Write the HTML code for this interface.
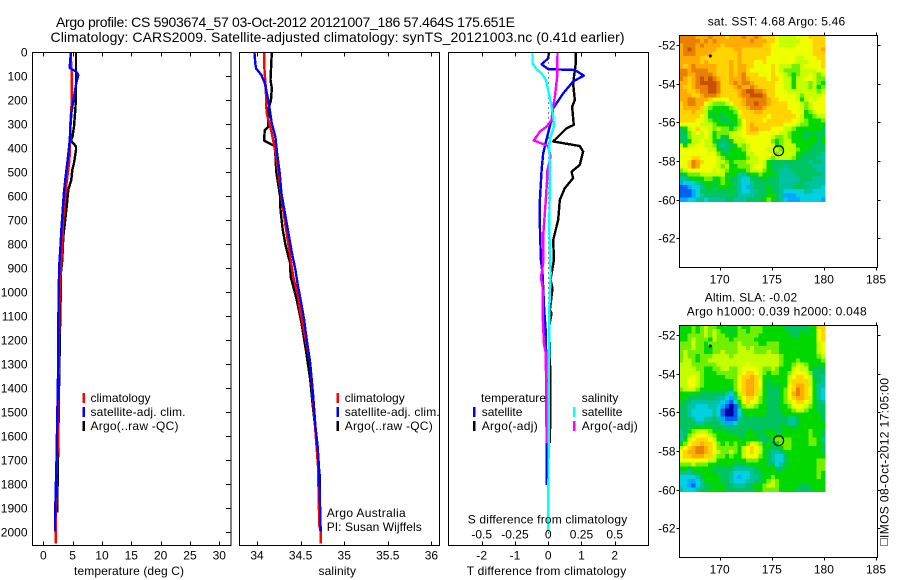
<!DOCTYPE html>
<html>
<head>
<meta charset="utf-8">
<title>Argo profile</title>
<style>
html,body{margin:0;padding:0;background:#fff;width:900px;height:580px;overflow:hidden}
svg{display:block}
text{font-family:"Liberation Sans",sans-serif;font-size:12px;fill:#000}
.t14{font-size:14px}
</style>
</head>
<body>
<svg id="fig" xmlns="http://www.w3.org/2000/svg" width="900" height="580" viewBox="0 0 900 580">
<rect x="0" y="0" width="900" height="580" fill="#fff"/>
<g id="panels"></g>
<g id="labels">
<text class="t14" x="56" y="27" textLength="459" lengthAdjust="spacing">Argo profile: CS 5903674_57 03-Oct-2012 20121007_186 57.464S 175.651E</text>
<text class="t14" x="50.5" y="42" textLength="574" lengthAdjust="spacing">Climatology: CARS2009. Satellite-adjusted climatology: synTS_20121003.nc (0.41d earlier)</text>

<text x="74" y="575" textLength="110" lengthAdjust="spacing">temperature (deg C)</text>
<text x="318.5" y="575" textLength="37.5" lengthAdjust="spacing">salinity</text>
<text x="466.7" y="575" textLength="159.5" lengthAdjust="spacing">T difference from climatology</text>
<text x="467.7" y="523.5" textLength="159.5" lengthAdjust="spacing">S difference from climatology</text>

<text x="90.5" y="402">climatology</text>
<text x="90.5" y="416" textLength="95" lengthAdjust="spacing">satellite-adj. clim.</text>
<text x="90.5" y="430" textLength="88" lengthAdjust="spacing">Argo(..raw -QC)</text>
<text x="344.7" y="402">climatology</text>
<text x="344.7" y="416" textLength="95" lengthAdjust="spacing">satellite-adj. clim.</text>
<text x="344.7" y="430" textLength="88" lengthAdjust="spacing">Argo(..raw -QC)</text>
<text x="326.7" y="517" textLength="79" lengthAdjust="spacing">Argo Australia</text>
<text x="326.7" y="531" textLength="95" lengthAdjust="spacing">PI: Susan Wijffels</text>

<text x="481" y="402" textLength="65" lengthAdjust="spacing">temperature</text>
<text x="481.7" y="416">satellite</text>
<text x="481.7" y="430" textLength="56" lengthAdjust="spacing">Argo(-adj)</text>
<text x="581.7" y="402">salinity</text>
<text x="581.7" y="416">satellite</text>
<text x="581.7" y="430" textLength="56" lengthAdjust="spacing">Argo(-adj)</text>

<text x="707.7" y="25.5" textLength="137.5" lengthAdjust="spacing">sat. SST: 4.68 Argo: 5.46</text>
<text x="704.7" y="301.7" textLength="92.5" lengthAdjust="spacing">Altim. SLA: -0.02</text>
<text x="686.7" y="315.5" textLength="180" lengthAdjust="spacing">Argo h1000: 0.039 h2000: 0.048</text>
<text transform="translate(888.7,538) rotate(-90)" x="0" y="0" textLength="160" lengthAdjust="spacing">IMOS 08-Oct-2012 17:05:00</text>
<rect x="880.5" y="538.5" width="7" height="7" fill="none" stroke="#000" stroke-width="1" stroke-dasharray="1 1" shape-rendering="crispEdges"/>
</g>
</svg>
<script>
// Axis tick values
const depthTicks = [0,100,200,300,400,500,600,700,800,900,1000,1100,1200,1300,1400,1500,1600,1700,1800,1900,2000];
const tempTicks = [0,5,10,15,20,25,30];
const salTicks = [34,34.5,35,35.5,36];
const salTickLabels = ["34","34.5","35","35.5","36"];
const tDiffTicks = [-2,-1,0,1,2];
const sDiffTicks = [-0.5,-0.25,0,0.25,0.5];
const sDiffTickLabels = ["-0.5","-0.25","0","0.25","0.5"];
const lonTicks = [170,175,180,185];
const latTicks = [-52,-54,-56,-58,-60,-62];

// Temperature profiles
const tempClimDepth = [0,100,200,300,400,450,500,550,600,700,800,900,1000,1300,1640,1700,2000,2050];
const tempClimValue = [4.65,4.85,4.85,4.6,4.55,4.45,4.2,3.95,3.75,3.4,3.25,3.0,2.8,2.6,2.55,2.3,2.1,2.1];
const tempSatDepth = [0,45,65,72,80,95,130,190,250,300,370,440,520,590,660,730,800,880,1000,1350,1700,1950,2000];
const tempSatValue = [4.7,4.55,4.5,5.0,5.6,5.95,5.6,5.2,4.8,4.65,4.5,4.2,3.8,3.5,3.3,3.1,2.95,2.75,2.6,2.5,2.25,2.0,2.0];
const tempArgoDepth = [0,115,185,240,310,350,368,393,407,462,490,532,574,643,712,768,865,920,1032,1157,1407,1630,1920];
const tempArgoValue = [5.57,5.57,5.57,5.45,5.23,5.0,4.72,5.57,5.57,5.23,4.94,4.77,4.26,3.98,3.69,3.41,3.24,3.0,2.95,2.84,2.67,2.55,2.35];

// Salinity profiles
const salClimDepth = [0,60,143,254,338,435,546,657,754,851,935,1018,1070,1296,1559,1726,1976,2000,2050];
const salClimValue = [34.084,34.084,34.10,34.11,34.17,34.22,34.26,34.30,34.34,34.38,34.415,34.47,34.49,34.61,34.665,34.70,34.715,34.73,34.73];
const salSatDepth = [0,46,67,95,129,199,297,351,421,504,588,671,754,837,907,976,1032,1115,1199,1296,1435,1559,1643,1726,1851,2000];
const salSatValue = [33.97,33.98,33.99,34.05,34.09,34.13,34.17,34.21,34.23,34.26,34.28,34.32,34.36,34.40,34.44,34.47,34.50,34.54,34.57,34.61,34.645,34.67,34.695,34.71,34.72,34.73];
const salArgoDepth = [0,115,150,199,240,310,324,368,392,450,497,601,657,740,810,879,935,976,1018,1032,1129,1240,1365,1476,1559,1698,1768,1851];
const salArgoValue = [34.17,34.155,34.17,34.16,34.13,34.13,34.09,34.08,34.205,34.215,34.22,34.265,34.27,34.295,34.33,34.38,34.385,34.415,34.445,34.455,34.51,34.56,34.61,34.64,34.665,34.70,34.72,34.72];

// Difference profiles
const diffTSatDepth = [0,25,50,70,74,97,122,171,233,282,352,421,491,616,727,866,922,1075,1172,1422,1805];
const diffTSatValue = [0.02,0,-0.20,0,0.80,1.07,0.75,0.45,0.15,0.10,-0.03,-0.15,-0.20,-0.25,-0.25,-0.22,-0.17,-0.12,-0.07,-0.05,-0.05];
const diffTArgoDepth = [0,46,129,199,227,303,317,372,391,414,470,498,525,567,616,699,783,866,949,984,1075,1089,1144,1269,1408,1630];
const diffTArgoValue = [0.83,0.83,0.75,0.80,0.72,0.77,0.55,0.15,0.95,1.05,0.95,0.70,0.75,0.50,0.35,0.30,0.15,0.17,0.07,0.13,0.05,0.10,0.03,0.05,0.07,0.05];
const diffSSatDepth = [0,46,71,88,115,157,213,268,310,352,386,505,741,922,1075,2000];
const diffSSatValue = [-0.118,-0.118,-0.088,-0.05,-0.018,0,0.02,0.038,0.043,0.018,0.008,0.012,0.008,0.018,0.008,0];
const diffSArgoDepth = [0,100,185,241,282,310,330,368,391,435,498,532,616,769,880,942,977,1075,1089,1214,1255,1630];
const diffSArgoValue = [0.07,0.068,0.05,0.033,0.025,-0.012,-0.062,-0.108,0,0.018,-0.008,-0.008,-0.018,-0.038,-0.038,-0.055,-0.043,-0.04,-0.042,-0.032,-0.018,-0.012];

// Argo float positions
const floatLon = [175.651];
const floatLat = [-57.464];
const nearbyLon = [169.1];
const nearbyLat = [-52.57];

// Colour-level grids (level index into the map palette)
const sstGrid = [
[12,12,12,12,11,11,11,12,11,11,11,10,11,11,11,12,11,11,12,11,10,10,10,9,8,8,8,8,9,9,9,10,10,10,10],
[12,12,12,12,12,11,12,11,12,11,11,11,11,11,11,11,11,12,11,11,11,10,10,9,8,8,8,8,8,9,9,9,10,10,10],
[11,12,12,12,11,12,11,11,11,11,10,11,11,11,11,11,11,11,11,11,10,10,9,9,8,8,8,8,9,9,9,9,10,10,10],
[11,12,13,12,11,11,11,11,11,10,10,10,10,11,11,10,10,10,10,10,10,10,9,9,9,9,9,9,9,9,9,9,10,10,11],
[11,12,12,12,11,11,11,11,10,10,10,10,10,10,11,10,10,10,10,10,10,10,9,9,9,9,9,9,9,9,9,9,10,10,10],
[11,11,11,11,11,10,10,10,10,10,10,10,10,10,11,10,10,10,10,10,10,9,9,9,9,9,9,9,8,8,9,9,9,10,10],
[11,11,11,11,11,10,11,10,10,10,10,10,11,10,11,10,10,10,9,9,10,9,9,9,9,9,9,9,8,8,8,9,9,9,10],
[11,10,11,12,11,11,11,11,11,10,10,10,11,10,11,11,10,10,9,9,9,9,10,9,8,8,8,7,7,8,9,9,9,9,10],
[12,12,11,12,12,12,12,11,11,10,10,10,11,10,11,11,10,9,9,9,9,9,10,9,8,7,7,7,7,8,8,8,8,9,9],
[12,12,11,11,12,12,12,12,11,10,10,10,11,10,11,12,10,10,10,9,9,9,10,9,9,8,7,6,7,8,8,9,8,7,8],
[12,11,10,11,12,13,12,13,12,11,10,10,11,11,11,12,11,10,10,10,10,9,10,10,9,8,8,6,8,8,9,9,8,7,7],
[11,11,10,11,12,13,13,13,13,12,10,10,11,12,11,12,12,11,10,10,10,10,10,9,9,8,8,6,8,8,8,7,8,7,6],
[11,10,10,11,12,12,12,13,13,12,10,10,10,11,12,11,11,12,11,10,10,10,10,9,9,8,8,6,8,8,8,7,8,6,7],
[11,11,10,10,11,12,12,13,13,12,10,10,10,10,11,12,13,13,12,12,11,10,10,9,9,9,8,8,8,8,8,8,8,7,8],
[11,11,11,10,10,11,12,12,12,11,10,10,10,10,11,12,12,13,13,13,12,10,10,9,9,9,9,9,8,7,8,8,8,8,9],
[11,11,12,12,11,11,11,10,9,9,9,9,10,10,10,11,12,12,12,12,12,11,10,10,9,9,9,9,8,6,8,9,8,9,9],
[10,11,12,12,11,11,9,8,7,7,7,8,9,10,10,11,12,12,13,12,12,11,10,10,10,10,9,9,9,8,7,8,9,9,9],
[10,11,11,11,11,10,8,7,6,6,6,6,7,8,10,10,11,12,12,12,11,10,10,10,10,10,9,9,9,8,7,8,9,9,9],
[10,10,10,11,10,10,8,6,6,6,6,6,6,7,9,10,10,10,11,11,10,10,10,10,10,10,10,9,9,9,6,7,8,9,9],
[10,10,10,10,10,9,8,6,5,6,5,6,6,6,8,10,10,10,10,10,10,9,10,10,10,10,10,10,9,8,6,6,7,8,8],
[10,10,10,10,9,9,8,7,6,6,5,5,6,6,7,9,10,10,10,10,9,10,10,10,10,10,10,9,9,8,7,6,6,6,7],
[9,9,9,9,9,8,8,8,7,6,6,6,5,6,7,9,10,11,10,10,10,10,10,10,10,9,9,9,8,7,7,6,6,6,6],
[5,6,8,9,10,9,9,8,7,8,7,7,6,7,8,9,10,11,11,10,10,10,9,9,9,8,8,7,6,6,6,6,6,6,5],
[5,5,7,8,9,8,9,8,6,7,7,7,8,8,9,9,10,10,10,9,9,9,9,9,8,8,7,6,6,6,5,5,6,5,5],
[5,5,7,8,8,8,9,8,6,7,5,6,8,8,8,9,9,9,9,9,9,9,8,7,7,8,7,6,6,6,5,6,6,5,6],
[5,5,6,8,8,9,8,8,6,5,5,5,6,8,8,8,9,9,9,9,9,9,7,6,7,8,8,6,6,6,6,6,6,5,6],
[8,6,8,8,9,9,8,8,7,5,4,5,5,6,8,7,8,9,9,9,9,9,8,6,7,8,8,8,6,6,6,6,5,5,5],
[9,9,9,9,9,9,9,8,8,6,5,5,6,6,6,7,8,9,9,9,9,8,8,8,7,8,8,8,7,6,6,5,5,5,5],
[9,9,9,9,9,9,9,9,9,7,6,5,6,6,6,6,8,8,9,9,9,9,8,7,8,8,8,8,6,6,5,5,5,5,4],
[9,9,9,10,10,9,9,9,9,8,7,6,6,6,6,6,7,8,8,9,9,8,7,8,8,8,8,7,6,5,5,5,5,4,4],
[9,9,10,12,11,10,9,9,9,8,8,7,6,7,7,7,8,8,8,9,8,6,5,5,5,5,5,5,5,5,5,4,5,5,4],
[9,9,10,12,11,9,9,9,9,8,7,8,6,6,7,7,7,8,9,9,8,6,5,5,5,4,5,5,5,5,5,5,4,4,4],
[7,8,9,9,9,9,9,9,8,9,8,7,6,6,6,6,7,8,8,9,7,6,5,5,4,4,4,5,5,5,5,5,5,4,4],
[5,6,7,7,7,8,8,8,8,8,8,6,6,6,4,4,5,6,6,7,6,6,6,5,4,4,4,4,5,5,5,5,5,5,4],
[4,4,5,6,6,6,7,7,6,6,7,6,5,5,4,3,3,5,5,5,6,5,5,5,4,4,4,4,4,5,5,5,4,4,4],
[2,3,3,3,4,5,6,6,5,6,7,6,6,5,4,3,3,4,5,5,5,5,5,5,4,4,4,4,5,5,4,4,4,4,4],
[1,1,2,3,3,4,5,6,5,6,6,6,5,5,4,3,2,4,5,5,5,6,5,5,4,4,4,5,5,5,5,4,4,4,3],
[1,1,1,2,3,5,5,5,5,5,5,5,6,5,4,3,3,4,4,5,5,6,5,5,4,3,3,3,3,3,4,4,3,3,3],
[1,1,1,2,3,4,5,5,5,5,5,5,5,5,4,4,4,4,5,5,5,6,6,5,4,2,2,2,3,3,3,3,3,3,3],
[2,2,3,3,4,4,3,4,4,4,4,5,5,4,4,4,5,5,5,5,6,7,6,5,4,3,2,2,2,3,3,3,3,3,2]
];
const slaGrid = [
[6,6,6,7,6,7,8,7,7,6,6,6,6,6,7,6,6,7,7,7,6,6,6,6,6,5,5,5,5,5,5,6,6,10,10],
[6,6,6,7,6,7,8,7,8,7,6,6,5,6,7,7,6,7,7,7,6,6,6,6,6,6,5,5,5,6,5,6,6,9,10],
[6,6,7,7,7,7,8,7,8,7,7,6,6,6,7,7,7,7,7,6,6,6,6,6,6,6,6,5,5,6,6,6,6,9,10],
[6,6,7,8,7,7,7,6,8,7,7,7,6,7,7,7,7,7,6,6,6,6,6,6,6,6,6,6,6,6,6,6,6,9,10],
[7,7,7,8,7,7,6,7,7,7,7,7,7,7,8,7,7,7,7,6,6,7,7,7,6,6,6,6,6,6,6,6,6,8,9],
[7,7,7,8,7,7,6,6,7,7,7,7,7,7,8,8,7,8,7,7,7,7,7,7,6,6,6,6,6,6,6,6,6,8,9],
[7,8,7,7,7,7,6,6,7,7,8,7,7,7,8,8,8,8,7,7,7,8,7,7,6,6,6,6,6,6,6,6,6,8,9],
[7,8,7,7,6,7,7,7,8,8,8,8,7,8,8,8,8,8,8,8,8,8,8,8,7,6,6,6,6,6,6,6,6,7,8],
[7,8,8,7,6,7,7,8,8,8,8,8,8,8,8,8,8,8,8,8,8,8,8,8,7,6,6,6,7,6,6,6,6,6,7],
[8,8,8,7,7,7,7,7,7,8,8,8,8,8,8,8,9,8,8,8,8,8,8,8,7,6,6,7,8,8,7,6,6,6,6],
[8,8,8,8,7,7,6,6,7,7,8,8,7,7,8,9,9,9,9,8,7,7,8,7,6,6,6,8,9,8,8,6,5,5,5],
[8,8,8,8,8,7,6,6,6,7,7,7,7,7,8,9,10,10,9,8,7,6,7,7,6,6,7,9,9,9,9,7,5,5,5],
[8,8,9,9,8,7,6,6,6,6,6,7,7,7,9,10,10,11,10,8,6,6,6,6,6,6,8,9,10,10,9,8,5,5,4],
[8,8,9,9,8,7,6,6,6,6,6,6,6,7,9,10,11,11,10,9,6,5,6,6,6,6,8,10,10,10,10,8,6,5,4],
[8,8,9,9,8,7,6,6,6,6,6,6,6,7,9,10,11,11,10,9,6,5,6,5,6,6,9,10,11,11,10,8,6,4,4],
[7,8,8,8,7,6,6,6,6,6,6,6,5,7,9,10,11,11,10,8,6,5,5,5,6,7,9,10,12,11,10,9,6,4,3],
[6,6,6,6,6,5,5,5,5,5,5,4,3,6,8,10,11,11,10,8,6,5,5,5,6,7,9,11,12,11,10,9,6,4,3],
[6,6,5,5,5,5,5,5,5,4,4,3,2,4,7,9,10,10,9,7,6,5,5,5,6,7,9,10,11,11,10,8,6,4,3],
[6,5,5,4,4,4,4,4,4,4,3,2,1,3,6,9,10,9,9,7,6,5,5,5,6,7,8,9,10,10,9,8,6,5,4],
[5,5,4,4,3,3,3,4,4,3,2,1,0,1,5,7,8,8,7,6,6,5,5,5,6,6,7,9,9,9,8,7,6,5,5],
[5,5,4,3,3,3,3,3,4,3,1,0,0,1,3,6,6,6,6,6,6,5,5,5,6,6,6,7,8,8,7,6,6,5,5],
[5,5,4,3,3,3,3,3,4,3,1,0,0,1,3,5,6,6,6,6,6,5,5,5,5,6,6,6,6,6,6,6,6,6,5],
[5,5,5,4,3,3,4,4,5,4,2,1,1,1,4,5,5,5,5,5,5,5,5,5,5,5,4,4,5,6,6,6,6,6,5],
[5,5,5,5,4,4,5,5,5,5,4,2,2,3,5,5,5,5,5,5,5,5,5,5,5,5,4,4,5,6,6,6,6,6,6],
[5,5,5,6,6,6,6,6,5,5,5,5,5,5,5,5,5,5,5,5,5,5,5,5,6,6,6,5,6,6,6,6,6,6,6],
[4,5,6,7,8,8,8,7,6,6,6,5,5,5,5,5,6,6,5,5,6,6,6,5,5,6,6,6,6,6,6,7,6,6,5],
[4,5,7,8,9,9,9,8,7,6,6,6,6,6,5,5,6,6,6,5,5,6,6,6,6,6,6,6,6,6,6,7,6,6,5],
[4,6,8,9,10,10,10,9,8,6,6,6,6,6,6,6,6,6,6,5,5,5,6,7,7,7,7,6,6,6,6,7,7,6,4],
[6,7,9,10,10,11,10,10,9,7,6,7,6,7,6,6,7,9,8,7,5,6,5,6,7,7,7,6,6,6,6,7,7,6,5],
[8,9,10,11,12,12,11,10,9,7,7,7,7,7,6,8,9,10,9,8,6,6,5,5,6,7,7,6,6,6,6,6,6,6,5],
[9,10,11,11,12,12,11,10,9,8,7,7,8,7,6,8,9,10,9,8,6,5,4,4,5,6,6,6,6,6,6,6,6,6,5],
[9,10,10,11,11,11,10,10,8,7,7,6,7,6,6,8,9,9,9,7,6,5,4,3,3,5,6,6,6,6,6,6,6,6,6],
[9,9,9,9,9,9,9,8,8,6,6,6,6,6,6,6,7,7,7,6,6,5,4,3,3,5,6,6,6,6,6,6,6,7,7],
[7,7,7,8,7,7,7,6,6,6,6,6,6,5,5,5,6,6,6,6,6,5,5,3,4,5,6,6,6,6,6,6,6,7,7],
[6,6,5,6,6,6,6,6,5,5,5,5,5,4,4,4,4,4,5,6,6,6,6,5,5,6,6,6,6,6,6,6,6,7,7],
[4,4,4,5,5,6,6,6,6,5,5,5,4,3,3,3,3,4,5,5,6,6,6,6,6,6,6,6,6,6,6,6,6,7,6],
[3,3,3,3,4,5,6,6,6,6,5,5,4,3,2,3,3,4,4,5,6,6,7,6,6,6,6,6,6,6,6,6,6,7,6],
[3,3,2,2,3,4,6,6,6,6,5,5,4,3,3,3,4,4,5,5,6,7,8,7,6,6,6,6,6,6,6,6,6,6,6],
[3,3,2,1,3,4,5,5,6,6,6,5,5,4,4,4,5,5,6,6,7,8,8,7,6,6,6,6,6,5,5,6,6,6,6],
[4,3,3,3,4,5,5,6,6,6,6,5,5,5,5,5,5,5,6,6,7,7,7,7,6,6,6,6,5,5,5,5,6,6,6]
];

const mapPalette = ["#0000a0","#0060f0","#00a8ff","#00d0e0","#00c4a0","#00c460","#00d800","#70f000","#c4ff00","#f0ff00","#ffd400","#ffac00","#e88000","#c85000"];

const NS = "http://www.w3.org/2000/svg";
const panels = document.getElementById("panels");

function make(tag, attrs, parent){
  const el = document.createElementNS(NS, tag);
  for(const k in attrs){ el.setAttribute(k, attrs[k]); }
  (parent || panels).appendChild(el);
  return el;
}

// Axis functions
const yDepth = d => 52.3 + d * 0.2397;
const xTemp = t => 43.3 + t * 5.867;
const xSal = s => 257 + (s - 34) * 87.2;
const xTDiff = t => 548.2 + t * 33.25;
const xSDiff = s => 548.2 + s * 133;
const xLon = lon => 719.7 + (lon - 170) * 10.42;
const yLat = (lat, top) => top + 10 + (-52 - lat) * 19.33;

const GRID_LON0 = 166.1;
const GRID_LAT0 = -51.48;
const GRID_DLON = 0.4;
const GRID_DLAT = 0.2156;

function drawLine(x1, y1, x2, y2, name, parent){
  const el = make("line", {x1:x1, y1:y1, x2:x2, y2:y2, stroke:"#000", "stroke-width":1, "shape-rendering":"crispEdges"}, parent);
  
  
  return el;
}

function drawText(str, x, y, anchor, name, parent){
  const el = make("text", {x:x, y:y, "text-anchor":anchor}, parent);
  el.textContent = str;
  
  
  return el;
}

function drawSeries(depths, values, xFn, color, width, name){
  const pts = depths.map((d, i) => xFn(values[i]).toFixed(1) + "," + yDepth(d).toFixed(1)).join(" ");
  const el = make("polyline", {points:pts, fill:"none", stroke:color, "stroke-width":width, "stroke-linejoin":"round", "shape-rendering":"crispEdges"});
  
  
  return el;
}

function drawFrame(x, y, w, h, name){
  const el = make("rect", {x:x, y:y, width:w, height:h, fill:"none", stroke:"#000", "stroke-width":1, "shape-rendering":"crispEdges"});
  
  
  return el;
}

function legendBar(x, y, color, name){
  const el = make("rect", {x:x, y:y, width:2.5, height:10, fill:color, "shape-rendering":"crispEdges"});
  
  
  return el;
}

// Profile panel geometry
const TOP = 52.5, BOT = 545.5, TICK = 4;

function xTicksBoth(ticks, fn, name){
  ticks.forEach(v => {
    const x = Math.round(fn(v)) + 0.5;
    drawLine(x, TOP, x, TOP + TICK, name + "-top-tick");
    drawLine(x, BOT, x, BOT - TICK, name + "-bottom-tick");
  });
}

// Temperature panel
drawSeries(tempArgoDepth, tempArgoValue, xTemp, "#000", 2.4, "temperature-argo-line");
drawSeries(tempClimDepth, tempClimValue, xTemp, "#f00", 2.4, "temperature-climatology-line");
drawSeries(tempSatDepth, tempSatValue, xTemp, "#00f", 2.4, "temperature-satellite-line");
drawFrame(32.5, TOP, 198.5, BOT - TOP, "temperature-panel-frame");
xTicksBoth(tempTicks, xTemp, "temperature");
tempTicks.forEach(v => drawText(String(v), xTemp(v), 559.5, "middle", "temperature-tick-label"));
depthTicks.forEach(d => {
  const y = Math.round(yDepth(d)) + 0.5;
  if(d > 0){
    drawLine(231, y, 226, y, "depth-right-tick");
  }
  drawText(String(d), 27.5, y + 4, "end", "depth-tick-label");
});
legendBar(82.5, 393, "#f00", "legend-swatch-temp-climatology");
legendBar(82.5, 407, "#00f", "legend-swatch-temp-satellite");
legendBar(82.5, 421, "#000", "legend-swatch-temp-argo");

// Salinity panel
drawSeries(salArgoDepth, salArgoValue, xSal, "#000", 2.4, "salinity-argo-line");
drawSeries(salClimDepth, salClimValue, xSal, "#f00", 2.4, "salinity-climatology-line");
drawSeries(salSatDepth, salSatValue, xSal, "#00f", 2.4, "salinity-satellite-line");
drawFrame(239.5, TOP, 200, BOT - TOP, "salinity-panel-frame");
xTicksBoth(salTicks, xSal, "salinity");
salTicks.forEach((v, i) => drawText(salTickLabels[i], xSal(v), 559.5, "middle", "salinity-tick-label"));
legendBar(336.5, 393, "#f00", "legend-swatch-sal-climatology");
legendBar(336.5, 407, "#00f", "legend-swatch-sal-satellite");
legendBar(336.5, 421, "#000", "legend-swatch-sal-argo");

// Difference panel
const zeroLine = make("line", {x1:xTDiff(0)+0.5, y1:TOP, x2:xTDiff(0)+0.5, y2:BOT, stroke:"#000", "stroke-width":1, "stroke-dasharray":"1 4", "shape-rendering":"crispEdges"});


drawSeries(diffTArgoDepth, diffTArgoValue, xTDiff, "#000", 2.4, "t-difference-argo-line");
drawSeries(diffTSatDepth, diffTSatValue, xTDiff, "#00f", 2.4, "t-difference-satellite-line");
drawSeries(diffSArgoDepth, diffSArgoValue, xSDiff, "#f0f", 2.4, "s-difference-argo-line");
drawSeries(diffSSatDepth, diffSSatValue, xSDiff, "#0ff", 2.4, "s-difference-satellite-line");
drawFrame(448.5, TOP, 200, BOT - TOP, "difference-panel-frame");
xTicksBoth(tDiffTicks, xTDiff, "t-difference");
tDiffTicks.forEach(v => drawText(String(v), xTDiff(v), 559.5, "middle", "t-difference-tick-label"));
sDiffTicks.forEach((v, i) => drawText(sDiffTickLabels[i], xSDiff(v), 538.5, "middle", "s-difference-tick-label"));
legendBar(473, 407, "#00f", "legend-swatch-diff-t-satellite");
legendBar(473, 421, "#000", "legend-swatch-diff-t-argo");
legendBar(573, 407, "#0ff", "legend-swatch-diff-s-satellite");
legendBar(573, 421, "#f0f", "legend-swatch-diff-s-argo");

// Maps
function drawMap(grid, top, prefix){
  grid.forEach((row, r) => {
    row.forEach((level, c) => {
      const x0 = xLon(GRID_LON0 + c * GRID_DLON);
      const x1 = xLon(GRID_LON0 + (c + 1) * GRID_DLON);
      const y0 = yLat(GRID_LAT0 - r * GRID_DLAT, top);
      const y1 = yLat(GRID_LAT0 - (r + 1) * GRID_DLAT, top);
      const cell = make("rect", {x:x0.toFixed(2), y:y0.toFixed(2), width:(x1 - x0 + 0.4).toFixed(2), height:(y1 - y0 + 0.4).toFixed(2), fill:mapPalette[level], "shape-rendering":"crispEdges"});
      
      
    });
  });
  const bottom = top + 232;
  drawFrame(679.5, top + 0.5, 198, 232, prefix + "-map-frame");
  lonTicks.forEach(v => {
    const x = Math.round(xLon(v)) + 0.5;
    drawLine(x, top + 0.5, x, top - 2.5, prefix + "-lon-top-tick");
    drawLine(x, bottom + 0.5, x, bottom + 3.5, prefix + "-lon-bottom-tick");
    drawText(String(v), xLon(v), bottom + 16.5, "middle", prefix + "-lon-tick-label");
  });
  latTicks.forEach(v => {
    const y = Math.round(yLat(v, top)) + 0.5;
    drawLine(679.5, y, 676.5, y, prefix + "-lat-left-tick");
    drawLine(877.5, y, 880.5, y, prefix + "-lat-right-tick");
    drawText(String(v), 675.5, y + 4, "end", prefix + "-lat-tick-label");
  });
  floatLon.forEach((lon, i) => {
    const ring = make("circle", {cx:xLon(lon), cy:yLat(floatLat[i], top), r:5, fill:"none", stroke:"#000", "stroke-width":1.2});
    
    
  });
  nearbyLon.forEach((lon, i) => {
    const dot = make("circle", {cx:xLon(lon), cy:yLat(nearbyLat[i], top), r:1.5, fill:"#000"});
    
    
  });
}
drawMap(sstGrid, 35, "sst");
drawMap(slaGrid, 325, "sla");
</script>
</body>
</html>
